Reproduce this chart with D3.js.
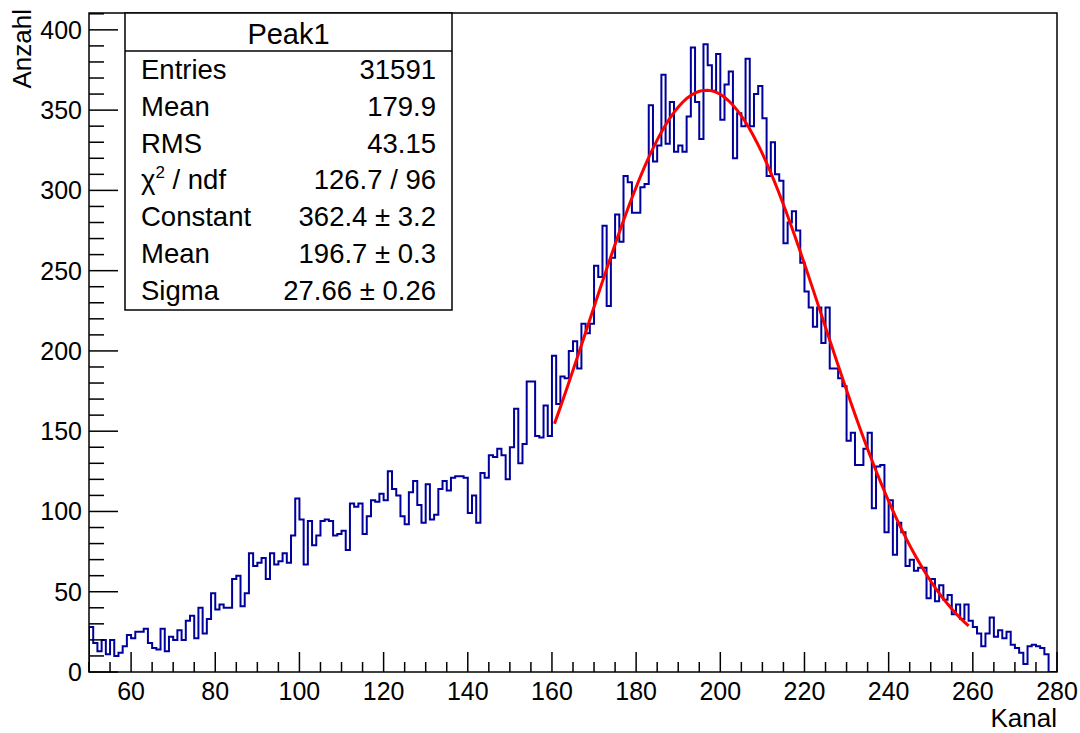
<!DOCTYPE html>
<html>
<head>
<meta charset="utf-8">
<script src="https://cdn.jsdelivr.net/npm/d3@7/dist/d3.min.js"></script>
<style>
  body { margin: 0; background: #fff; }
  text { font-family: "Liberation Sans", Arial, Helvetica, sans-serif; fill: #000; }
</style>
</head>
<body>
<svg id="chart" width="1080" height="733"></svg>
<script>
// histogram "Peak1", one bin per channel starting at channel 50
var firstChannel = 50
var counts = [
  28, 18, 13, 20, 11, 20, 10, 12, 16, 23,   // 50-59
  21, 25, 25, 27, 18, 15, 14, 27, 13, 22,   // 60-69
  20, 26, 20, 32, 35, 21, 40, 24, 33, 49,   // 70-79
  39, 42, 40, 40, 58, 60, 41, 49, 74, 66,   // 80-89
  68, 71, 58, 74, 67, 69, 74, 68, 85, 108,  // 90-99
  95, 67, 94, 79, 85, 94, 95, 94, 85, 86,   // 100-109
  88, 76, 105, 103, 105, 86, 97, 107, 106, 111, // 110-119
  107, 125, 114, 110, 97, 92, 112, 119, 104, 93, // 120-129
  117, 95, 98, 114, 119, 113, 121, 122, 122, 121, // 130-139
  99, 110, 93, 124, 121, 135, 134, 139, 135, 120, // 140-149
  140, 164, 130, 142, 181, 181, 147, 146, 166, 147, // 150-159
  197, 167, 184, 183, 200, 206, 189, 217, 211, 217, // 160-169
  253, 246, 278, 228, 258, 285, 268, 309, 305, 286, // 170-179
  286, 302, 304, 353, 318, 328, 372, 329, 355, 324, // 180-189
  328, 324, 346, 389, 355, 332, 391, 378, 362, 385, // 190-199
  344, 366, 374, 320, 348, 340, 382, 340, 360, 365, // 200-209
  345, 309, 330, 310, 306, 267, 280, 287, 275, 255, // 210-219
  237, 227, 215, 227, 205, 227, 189, 189, 183, 178, // 220-229
  144, 149, 129, 129, 139, 149, 102, 128, 129, 87,  // 230-239
  107, 73, 93, 87, 66, 70, 63, 65, 65, 46,          // 240-249
  58, 44, 54, 45, 48, 36, 42, 33, 42, 32,           // 250-259
  28, 24, 16, 24, 34, 22, 26, 21, 25, 17,           // 260-269
  15, 12, 5, 16, 17, 16, 15, 11, 0, 0               // 270-279
]

// gaus fit: constant, mean, sigma and the fitted range
var fitParams = [362.4, 196.7, 27.66]
var fitRange = [160.6, 259]

var statsTitle = "Peak1"
var statLabels = ["Entries", "Mean", "RMS", "chi2", "Constant", "Mean", "Sigma"]
var statValues = ["31591", "179.9", "43.15", "126.7 / 96", "362.4 \u00b1 3.2", "196.7 \u00b1 0.3", "27.66 \u00b1 0.26"]

var xTicks = [60, 80, 100, 120, 140, 160, 180, 200, 220, 240, 260, 280]
var yTicks = [0, 50, 100, 150, 200, 250, 300, 350, 400]

var width = 1080
var height = 733
var frame = {left: 89, right: 1057, top: 13, bottom: 672}

var svg = d3.select("#chart")
svg.append("rect").attr("width", width).attr("height", height).attr("fill", "#fff")

var x = d3.scaleLinear().domain([50, 280]).range([frame.left, frame.right])
var y = d3.scaleLinear().domain([0, 410.5]).range([frame.bottom, frame.top])

svg.append("clipPath").attr("id", "clip")
  .append("rect")
  .attr("x", frame.left).attr("y", frame.top)
  .attr("width", frame.right - frame.left).attr("height", frame.bottom - frame.top)

// histogram outline as steps
var pts = [[firstChannel, 0]]
counts.forEach(function(c, i) {
  pts.push([firstChannel + i, c])
  pts.push([firstChannel + i + 1, c])
})
pts.push([firstChannel + counts.length, 0])

svg.append("path")
  .attr("clip-path", "url(#clip)")
  .attr("d", d3.line().x(d => x(d[0])).y(d => y(d[1]))(pts))
  .attr("fill", "none")
  .attr("stroke", "#00009c")
  .attr("stroke-width", 2)

// fit curve
var gaus = function(v) {
  var t = (v - fitParams[1]) / fitParams[2]
  return fitParams[0] * Math.exp(-0.5 * t * t)
}
var fitPts = d3.range(101).map(function(k) {
  var v = fitRange[0] + (fitRange[1] - fitRange[0]) * k / 100
  return [v, gaus(v)]
})
svg.append("path")
  .attr("d", d3.line().x(d => x(d[0])).y(d => y(d[1]))(fitPts))
  .attr("fill", "none")
  .attr("stroke", "#ff0000")
  .attr("stroke-width", 3)

// frame
svg.append("rect")
  .attr("x", frame.left).attr("y", frame.top)
  .attr("width", frame.right - frame.left).attr("height", frame.bottom - frame.top)
  .attr("fill", "none").attr("stroke", "#000").attr("stroke-width", 1.5)

// x axis ticks (inside the frame)
var xAxisG = svg.append("g")
d3.range(50, 281, 5).forEach(function(v) {
  var major = xTicks.indexOf(v) >= 0
  xAxisG.append("line")
    .attr("x1", x(v)).attr("x2", x(v))
    .attr("y1", frame.bottom).attr("y2", frame.bottom - (major ? 20 : 10))
    .attr("stroke", "#000").attr("stroke-width", 1.5)
})
xAxisG.selectAll("text.xl").data(xTicks).enter().append("text")
  .attr("x", d => x(d)).attr("y", 700)
  .attr("text-anchor", "middle")
  .attr("font-size", 25)
  .text(d => d)

// y axis ticks
var yAxisG = svg.append("g")
d3.range(0, 411, 10).forEach(function(v) {
  var major = yTicks.indexOf(v) >= 0
  yAxisG.append("line")
    .attr("x1", frame.left).attr("x2", frame.left + (major ? 29 : 15))
    .attr("y1", y(v)).attr("y2", y(v))
    .attr("stroke", "#000").attr("stroke-width", 1.5)
})
yAxisG.selectAll("text.yl").data(yTicks).enter().append("text")
  .attr("x", 82).attr("y", d => y(d))
  .attr("dy", "0.36em")
  .attr("text-anchor", "end")
  .attr("font-size", 25)
  .text(d => d)

// axis titles
svg.append("text")
  .attr("x", frame.right).attr("y", 727)
  .attr("text-anchor", "end")
  .attr("font-size", 26)
  .text("Kanal")
svg.append("text")
  .attr("transform", "translate(31,9) rotate(-90)")
  .attr("text-anchor", "end")
  .attr("font-size", 26)
  .text("Anzahl")

// stats box
var box = {left: 125, right: 452, top: 13, bottom: 310, sep: 51}
svg.append("rect")
  .attr("x", box.left).attr("y", box.top)
  .attr("width", box.right - box.left).attr("height", box.bottom - box.top)
  .attr("fill", "#fff").attr("stroke", "#000").attr("stroke-width", 1.5)
svg.append("line")
  .attr("x1", box.left).attr("x2", box.right)
  .attr("y1", box.sep).attr("y2", box.sep)
  .attr("stroke", "#000").attr("stroke-width", 1.5)
svg.append("text")
  .attr("x", (box.left + box.right) / 2).attr("y", 44)
  .attr("text-anchor", "middle")
  .attr("font-size", 29)
  .text(statsTitle)

statLabels.forEach(function(lab, i) {
  var by = 79 + i * 36.8
  var t = svg.append("text").attr("x", 141).attr("y", by).attr("font-size", 27.5)
  if (lab == "chi2") {
    t.append("tspan").text("\u03c7")
    t.append("tspan").attr("font-size", 17).attr("dy", -11).text("2")
    t.append("tspan").attr("dy", 11).text(" / ndf")
  } else {
    t.text(lab)
  }
  svg.append("text").attr("x", 436).attr("y", by)
    .attr("text-anchor", "end").attr("font-size", 27.5)
    .text(statValues[i])
})
</script>
</body>
</html>
